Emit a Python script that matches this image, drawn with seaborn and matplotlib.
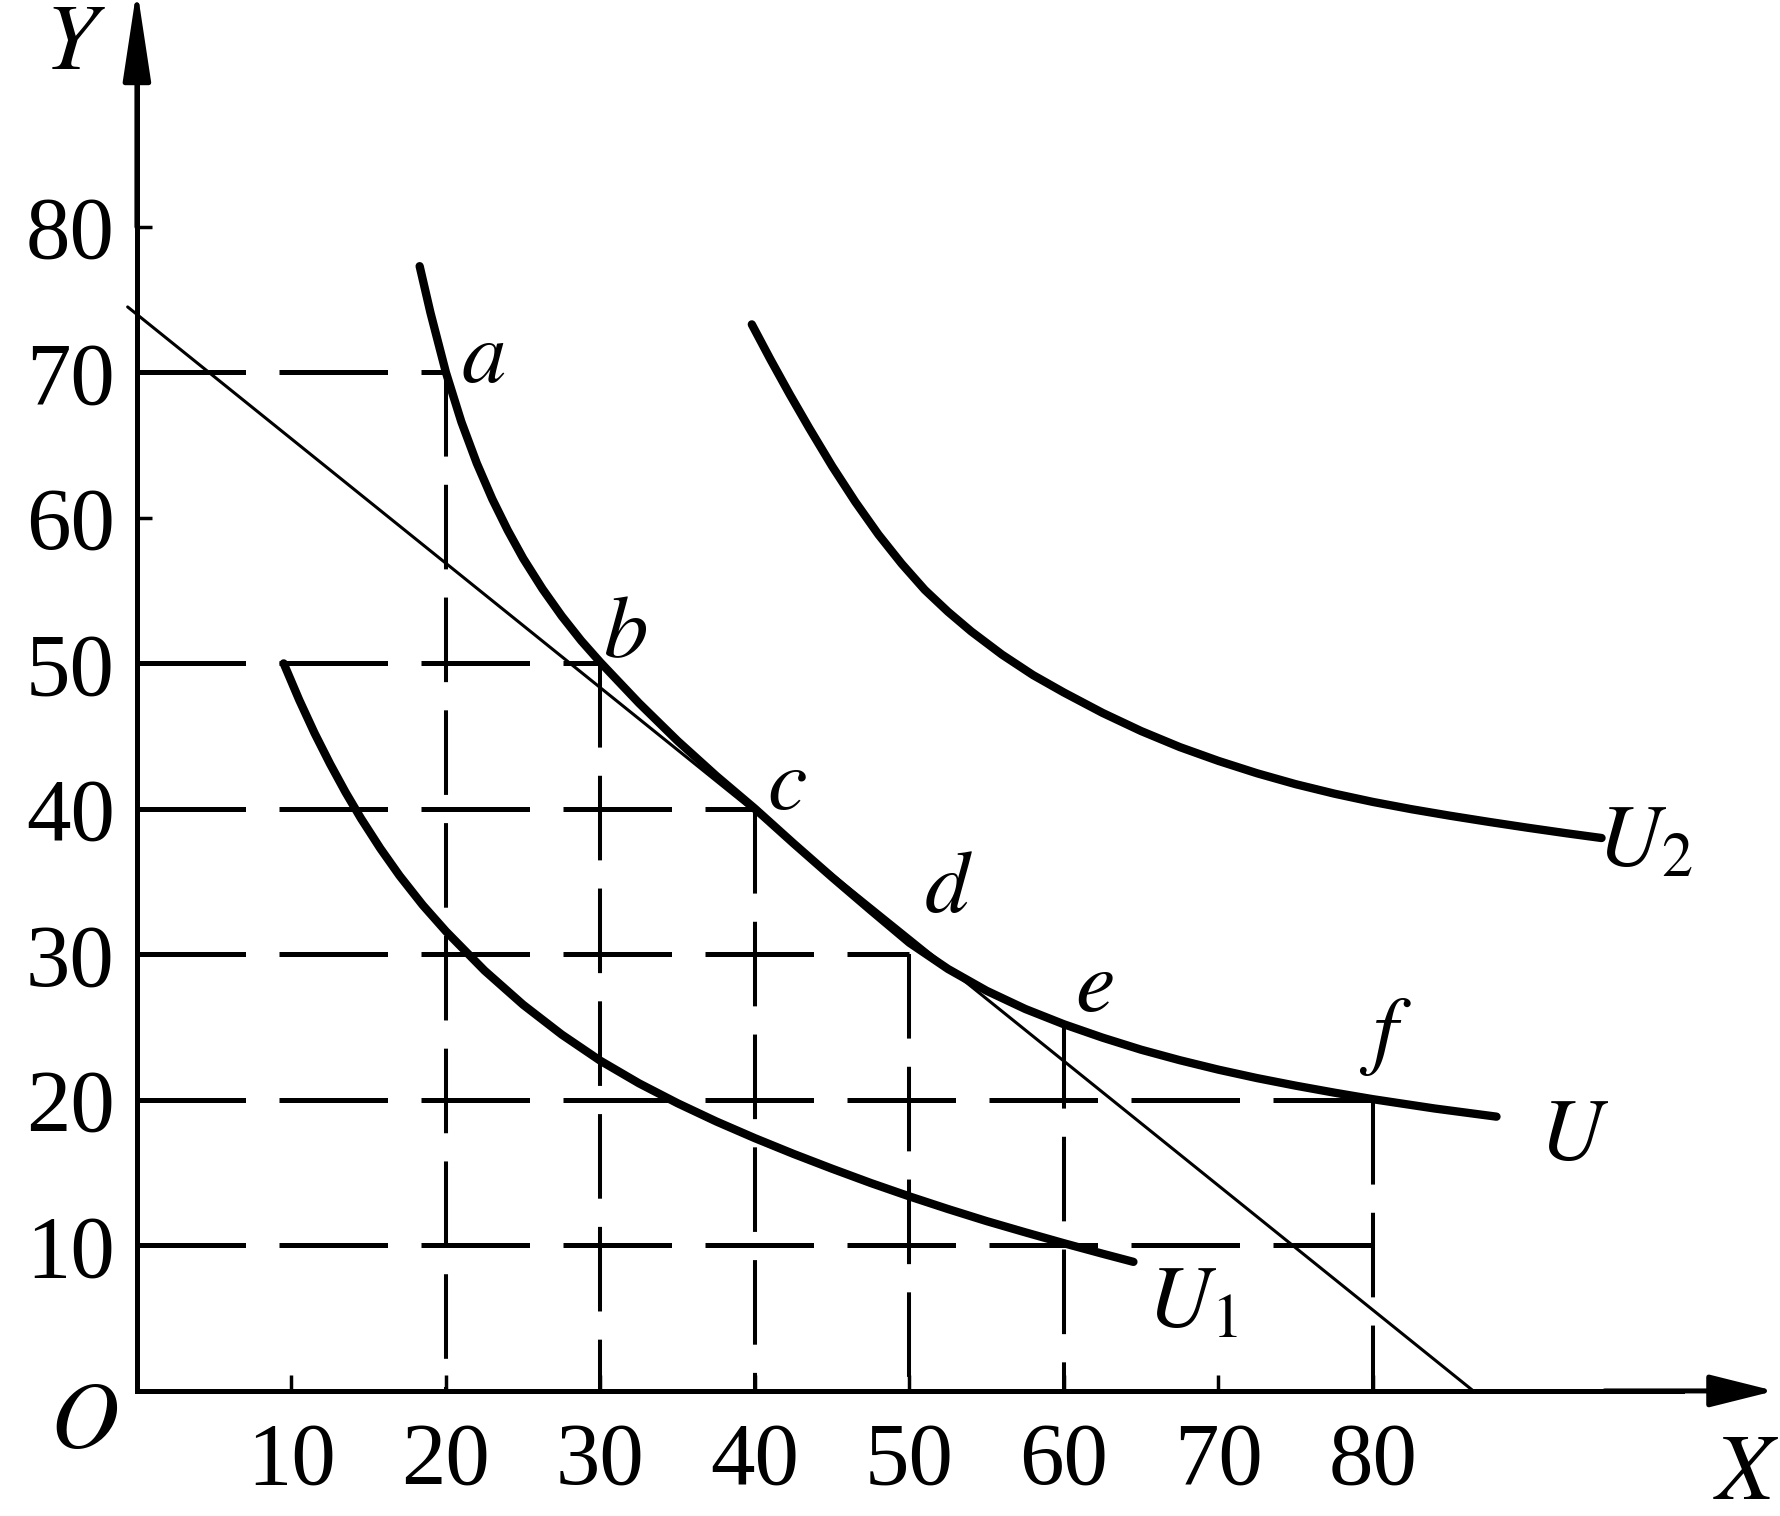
import numpy as np
import pandas as pd
import seaborn as sns
import matplotlib.pyplot as plt
from matplotlib.patches import ArrowStyle

# ---------------- data ----------------
# indifference curve U (middle)
u_x = [18.3, 19.0, 20.0, 21.0, 22.0, 23.0, 24.0, 25.0, 26.25, 27.5, 28.75, 30.0,
       32.5, 35.0, 37.5, 40.0, 42.5, 45.0, 47.5, 50.0, 52.5, 55.0, 57.5, 60.0,
       62.5, 65.0, 67.5, 70.0, 72.5, 75.0, 77.5, 80.0, 84.0, 88.0]
u_y = [77.3, 74.1, 70.0, 66.6, 63.75, 61.3, 59.15, 57.22, 55.12, 53.25, 51.57, 50.07,
       47.27, 44.67, 42.27, 40.02, 37.63, 35.3, 33.03, 30.8, 29.0, 27.5, 26.25, 25.2,
       24.28, 23.45, 22.73, 22.08, 21.5, 20.98, 20.5, 20.05, 19.41, 18.85]
# lower indifference curve U1
u1_x = [9.5, 10.5, 11.5, 12.5, 13.5, 14.5, 15.75, 17.0, 18.5, 20.0, 22.5, 25.0,
        27.5, 30.0, 32.5, 35.0, 37.5, 40.0, 42.5, 45.0, 47.5, 50.0, 52.5, 55.0,
        57.5, 60.0, 62.5, 64.5]
u1_y = [50.0, 47.5, 45.2, 43.1, 41.15, 39.35, 37.29, 35.41, 33.39, 31.59, 28.89, 26.54,
        24.49, 22.69, 21.14, 19.77, 18.52, 17.37, 16.29, 15.27, 14.29, 13.37, 12.5, 11.67,
        10.9, 10.15, 9.43, 8.87]
# upper indifference curve U2
u2_x = [39.8, 41.0, 42.25, 43.5, 45.0, 46.5, 48.0, 49.5, 51.0, 52.5, 54.0, 56.0,
        58.0, 60.0, 62.5, 65.0, 67.5, 70.0, 72.5, 75.0, 77.5, 80.0, 82.5, 85.0,
        87.5, 90.0, 92.5, 94.8]
u2_y = [73.3, 70.9, 68.5, 66.2, 63.55, 61.1, 58.85, 56.85, 55.05, 53.55, 52.2, 50.6,
        49.2, 48.0, 46.6, 45.35, 44.25, 43.3, 42.45, 41.7, 41.05, 40.48, 39.98, 39.53,
        39.11, 38.71, 38.33, 38.0]
# budget line end points
budget_x = [-0.6, 86.5]
budget_y = [74.5, 0.0]

# labelled points on U
pt_labels = ["a", "b", "c", "d", "e", "f"]
pt_x = [20, 30, 40, 50, 60, 80]
pt_y = [70, 50, 40, 30, 25.2, 20]

# horizontal guide lines: level and right end
hline_y = [70, 50, 40, 30, 20, 10]
hline_end = [20, 30, 40, 50, 80, 80]

# axis ticks
xticks = [10, 20, 30, 40, 50, 60, 70, 80]
yticks = [10, 20, 30, 40, 50, 60, 70, 80]

# ---------------- figure ----------------
sns.set_theme(style="white")
plt.rcParams["font.family"] = ["Liberation Serif", "DejaVu Serif"]
plt.rcParams["mathtext.fontset"] = "stix"

fig = plt.figure(figsize=(17.8, 15.16), dpi=100)
ax = fig.add_axes([0.0639, 0.0729, 0.9348, 0.9262])
ax.set_xlim(-1.5, 106.2)
ax.set_ylim(-1.0, 95.5)

k = "black"
h_ls = (0, (21.7, 6.7))
v_ls = (0, (21.0, 7.0))

# horizontal dashed guides
for yv, xe in zip(hline_y, hline_end):
    sns.lineplot(x=[0, xe], y=[yv, yv], ax=ax, color=k, lw=3.6,
                 linestyle=h_ls, sort=False, estimator=None)
# vertical dashed guides (from point down to axis)
for xv, yv in zip(pt_x, pt_y):
    sns.lineplot(x=[xv, xv], y=[yv, 0], ax=ax, color=k, lw=2.9,
                 linestyle=v_ls, sort=False, estimator=None)

# budget line
sns.lineplot(x=budget_x, y=budget_y, ax=ax, color=k, lw=2.2,
             sort=False, estimator=None)

# indifference curves
for cx, cy in [(u_x, u_y), (u1_x, u1_y), (u2_x, u2_y)]:
    sns.lineplot(x=cx, y=cy, ax=ax, color=k, lw=6.0, sort=False,
                 estimator=None, solid_capstyle="round", solid_joinstyle="round")

# axes with arrows
for s in ["top", "right"]:
    ax.spines[s].set_visible(False)
ax.spines["left"].set_position(("data", 0))
ax.spines["bottom"].set_position(("data", 0))
ax.spines["left"].set_bounds(0, 90)
ax.spines["bottom"].set_bounds(0, 100)
for s in ["left", "bottom"]:
    ax.spines[s].set_linewidth(3.6)
    ax.spines[s].set_color(k)

a1 = ax.annotate("", xy=(0, 96.4), xytext=(0, 80), annotation_clip=False,
                 arrowprops=dict(arrowstyle=ArrowStyle("-|>", head_length=56, head_width=8.5),
                                 mutation_scale=1, lw=3.6, color=k,
                                 shrinkA=0, shrinkB=0))
a1.arrow_patch.set_clip_on(False)
a2 = ax.annotate("", xy=(106.0, 0), xytext=(95, 0), annotation_clip=False,
                 arrowprops=dict(arrowstyle=ArrowStyle("-|>", head_length=40, head_width=10),
                                 mutation_scale=1, lw=3.6, color=k,
                                 shrinkA=0, shrinkB=0))
a2.arrow_patch.set_clip_on(False)

ax.set_xticks(xticks)
ax.set_yticks(yticks)
ax.set_xticklabels([str(v) for v in xticks])
ax.set_yticklabels([str(v) for v in yticks])
ax.tick_params(axis="x", direction="in", length=11.5, width=2.5, pad=22,
               labelsize=64, colors=k, bottom=True)
ax.tick_params(axis="y", direction="in", length=11, width=2.5, pad=16,
               labelsize=64, colors=k, left=True)
ax.set_xlabel("")
ax.set_ylabel("")
ax.grid(False)

# text labels
fs = 64
lab_x = [22.4, 31.6, 42.1, 52.5, 62.0, 80.8]
lab_y = [70.8, 51.9, 41.5, 34.4, 27.6, 24.3]
for t, lx, ly in zip(pt_labels, lab_x, lab_y):
    ax.text(lx, ly, f"${t}$", fontsize=fs, ha="center", va="center", color=k)

ax.text(93.0, 17.4, r"$U$", fontsize=fs, ha="center", va="center", color=k)
ax.text(68.3, 6.0, r"$U_1$", fontsize=fs, ha="center", va="center", color=k)
ax.text(97.6, 37.6, r"$U_2$", fontsize=fs, ha="center", va="center", color=k)
ax.text(-4.0, 92.4, r"$Y$", fontsize=fs + 4, ha="center", va="center", color=k)
ax.text(-3.4, -2.4, r"$O$", fontsize=fs + 4, ha="center", va="center", color=k)
ax.text(104.2, -5.9, r"$X$", fontsize=fs + 4, ha="center", va="center", color=k)

fig.savefig("out.png", dpi=100, facecolor="white")
